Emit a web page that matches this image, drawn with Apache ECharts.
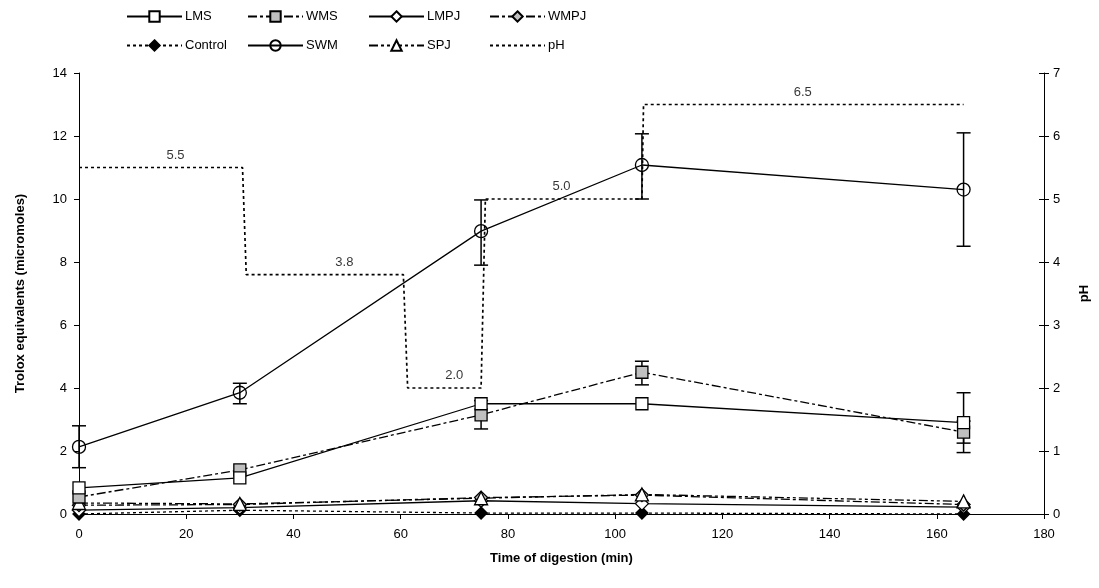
<!DOCTYPE html>
<html>
<head>
<meta charset="utf-8">
<script src="https://cdn.jsdelivr.net/npm/echarts@6/dist/echarts.min.js"></script>
<style>
  html, body { margin: 0; padding: 0; background: #fff; }
  #chart { width: 1099px; height: 588px; }
</style>
</head>
<body>
<div id="chart"></div>
<script>
// sampling times (min)
var times = [0, 30, 75, 105, 165];

// Trolox equivalents (micromoles)
var lms     = [0.83, 1.15, 3.5, 3.5, 2.9];
var wms     = [0.54, 1.4, 3.15, 4.5, 2.6];
var lmpj    = [0.12, 0.2, 0.42, 0.33, 0.22];
var wmpj    = [0.28, 0.3, 0.52, 0.6, 0.3];
var control = [0.0, 0.12, 0.03, 0.03, 0.0];
var swm     = [2.13, 3.85, 8.98, 11.08, 10.3];
var spj     = [0.35, 0.32, 0.5, 0.62, 0.4];

// error bars [low, high]
var swmErr = [[1.47, 2.8], [3.5, 4.15], [7.9, 9.97], [10.0, 12.07], [8.5, 12.1]];
var lmsErr = [null, null, null, null, [1.95, 3.85]];
var wmsErr = [null, null, [2.7, 3.6], [4.1, 4.85], [2.25, 2.95]];

// pH step profile
var pHTime  = [0, 30.5, 31.2, 60.5, 61.3, 75, 75.8, 105, 105.3, 165];
var pHValue = [5.5, 5.5, 3.8, 3.8, 2.0, 2.0, 5.0, 5.0, 6.5, 6.5];
var pHLabelTime  = [18, 49.5, 70, 90, 135];
var pHLabelValue = [5.5, 3.8, 2.0, 5.0, 6.5];

// legend layout: two rows of four
var legendRows = [['LMS', 'WMS', 'LMPJ', 'WMPJ'], ['Control', 'SWM', 'SPJ', 'pH']];

var font = 'Liberation Sans, Arial, sans-serif';

function pairs(xs, ys) {
  return xs.map(function (x, i) { return [x, ys[i]]; });
}
function errData(errs) {
  var out = [];
  errs.forEach(function (e, i) {
    if (e) out.push([times[i], e[0], e[1]]);
  });
  return out;
}
function errorSeries(errs) {
  return {
    type: 'custom',
    silent: true,
    z: 1,
    data: errData(errs),
    renderItem: function (params, api) {
      var lo = api.coord([api.value(0), api.value(1)]);
      var hi = api.coord([api.value(0), api.value(2)]);
      var w = 7;
      var st = { stroke: '#000', lineWidth: 1.5 };
      return {
        type: 'group',
        children: [
          { type: 'line', shape: { x1: lo[0], y1: lo[1], x2: hi[0], y2: hi[1] }, style: st },
          { type: 'line', shape: { x1: lo[0] - w, y1: lo[1], x2: lo[0] + w, y2: lo[1] }, style: st },
          { type: 'line', shape: { x1: hi[0] - w, y1: hi[1], x2: hi[0] + w, y2: hi[1] }, style: st }
        ]
      };
    }
  };
}
function lineSeries(name, ys, symbol, fill, dash, size) {
  return {
    name: name,
    type: 'line',
    data: pairs(times, ys),
    symbol: symbol,
    symbolSize: size,
    showAllSymbol: true,
    z: 3,
    lineStyle: { color: '#000', width: 1.3, type: dash },
    itemStyle: { color: fill, borderColor: '#000', borderWidth: 1.3, opacity: 1 }
  };
}

var dashDot = [9, 3, 3, 3];
var dotted = [3, 3];

var legends = [];
legendRows.forEach(function (row, r) {
  row.forEach(function (name, c) {
    var item = { name: name };
    if (name === 'pH') item.itemStyle = { opacity: 0 };
    legends.push({
      left: 121 + 121 * c,
      top: r === 0 ? 5 : 34,
      itemWidth: 55,
      itemHeight: 13,
      itemGap: 0,
      selectedMode: false,
      data: [item],
      textStyle: { fontFamily: font, fontSize: 13, color: '#000', padding: [0, 0, 0, -2] }
    });
  });
});

var chart = echarts.init(document.getElementById('chart'));
var option = {
  animation: false,
  backgroundColor: '#fff',
  textStyle: { fontFamily: font },
  legend: legends,
  grid: { left: 79, right: 52, top: 73, bottom: 74 },
  xAxis: {
    type: 'value',
    min: 0, max: 180, interval: 20,
    name: 'Time of digestion (min)',
    nameLocation: 'middle',
    nameGap: 38,
    nameTextStyle: { fontFamily: font, fontSize: 13, fontWeight: 'bold', color: '#000' },
    axisLine: { lineStyle: { color: '#000', width: 1 } },
    axisTick: { length: 5, lineStyle: { color: '#000' } },
    axisLabel: { fontFamily: font, fontSize: 13, color: '#000', margin: 14 },
    splitLine: { show: false }
  },
  yAxis: [{
    type: 'value',
    min: 0, max: 14, interval: 2,
    name: 'Trolox equivalents (micromoles)',
    nameLocation: 'middle',
    nameGap: 52,
    nameTextStyle: { fontFamily: font, fontSize: 13, fontWeight: 'bold', color: '#000' },
    axisLine: { show: true, lineStyle: { color: '#000', width: 1 } },
    axisTick: { show: true, length: 5, lineStyle: { color: '#000' } },
    axisLabel: { fontFamily: font, fontSize: 13, color: '#000', margin: 12 },
    splitLine: { show: false }
  }, {
    type: 'value',
    position: 'right',
    min: 0, max: 7, interval: 1,
    name: 'pH',
    nameLocation: 'middle',
    nameGap: 34,
    nameRotate: 90,
    nameTextStyle: { fontFamily: font, fontSize: 13, fontWeight: 'bold', color: '#000' },
    axisLine: { show: true, lineStyle: { color: '#000', width: 1 } },
    axisTick: { show: true, length: 5, lineStyle: { color: '#000' } },
    axisLabel: { fontFamily: font, fontSize: 13, color: '#000', margin: 9 },
    splitLine: { show: false }
  }, {
    type: 'value',
    position: 'right',
    min: 0, max: 7, interval: 1,
    axisLine: { show: false },
    axisTick: { show: true, inside: true, length: 5, lineStyle: { color: '#000' } },
    axisLabel: { show: false },
    splitLine: { show: false }
  }],
  series: [
    {
      name: 'pH',
      type: 'line',
      yAxisIndex: 1,
      data: pairs(pHTime, pHValue),
      symbol: 'none',
      z: 2,
      lineStyle: { color: '#000', width: 1.7, type: dotted },
      itemStyle: { color: '#000' }
    },
    {
      type: 'scatter',
      yAxisIndex: 1,
      silent: true,
      symbolSize: 0,
      data: pairs(pHLabelTime, pHLabelValue),
      label: {
        show: true,
        position: 'top',
        distance: 6,
        fontFamily: font,
        fontSize: 13,
        color: '#000',
        formatter: function (p) { return p.value[1].toFixed(1); }
      }
    },
    errorSeries(swmErr),
    errorSeries(lmsErr),
    errorSeries(wmsErr),
    lineSeries('Control', control, 'diamond', '#000', dotted, 12),
    lineSeries('LMPJ', lmpj, 'diamond', '#fff', 'solid', 13),
    lineSeries('WMPJ', wmpj, 'diamond', '#c0c0c0', dashDot, 13),
    lineSeries('SPJ', spj, 'triangle', '#fff', [9, 3, 3, 3, 3, 3], 13),
    lineSeries('WMS', wms, 'rect', '#c0c0c0', dashDot, 12),
    lineSeries('LMS', lms, 'rect', '#fff', 'solid', 12),
    lineSeries('SWM', swm, 'circle', 'rgba(255,255,255,0)', 'solid', 13)
  ]
};
chart.setOption(option);
</script>
</body>
</html>
